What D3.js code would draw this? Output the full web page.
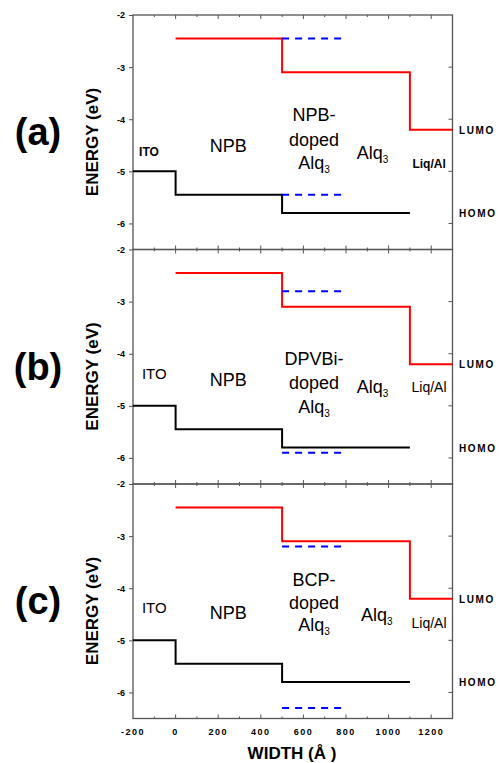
<!DOCTYPE html>
<html>
<head>
<meta charset="utf-8">
<script src="https://cdn.jsdelivr.net/npm/d3@7"></script>
<style>
  body { margin: 0; background: #fff; }
  text { font-family: "Liberation Sans", Arial, sans-serif; }
</style>
</head>
<body>
<div id="chart"></div>
<script>
// data
var panelNames = ["(a)", "(b)", "(c)"];
var dopants = ["NPB", "DPVBi", "BCP"];
var lumoX = [0, 500, 500, 1100, 1100, 1300];
var lumoY = [-2.45, -2.45, -3.1, -3.1, -4.2, -4.2];
var homoX = [-200, 0, 0, 500, 500, 1100];
var homoY = [-5, -5, -5.45, -5.45, -5.8, -5.8];
var dopantX = [500, 800];
var dopantLumo = [-2.45, -2.8, -3.2];
var dopantHomo = [-5.45, -5.9, -6.3];
var xTicks = [-200, 0, 200, 400, 600, 800, 1000, 1200];
var xMinor = [-100, 100, 300, 500, 700, 900, 1100];
var yTicks = [-2, -3, -4, -5, -6];

// label baselines (in eV) for each panel: [ITO, NPB, mid1, mid2, mid3, Alq3, Liq/Al]
var labelY = [
  [-4.71, -4.63, -4.03, -4.51, -4.96, -4.76, -4.94],
  [-4.49, -4.62, -4.22, -4.68, -5.14, -4.75, -4.74],
  [-4.48, -4.59, -3.96, -4.40, -4.82, -4.63, -4.76]
];

var width = 500, height = 763;
var left = 133, right = 452.5, top0 = 15, panelH = 234.5;

var svg = d3.select("#chart").append("svg")
    .attr("width", width)
    .attr("height", height);

var x = d3.scaleLinear().domain([-200, 1300]).range([left, right]);

var frameColor = "#555";

panelNames.forEach(function(name, i) {
  var top = top0 + i * panelH;
  var y = d3.scaleLinear().domain([-6.5, -2]).range([top + panelH, top]);
  var g = svg.append("g");
  var bold = i == 0; // panel (a) uses small bold ITO / Liq/Al
  var ly = labelY[i];

  // frame
  g.append("rect")
    .attr("x", left).attr("y", top)
    .attr("width", right - left).attr("height", panelH)
    .attr("fill", "none").attr("stroke", frameColor).attr("stroke-width", 1.3);

  // left axis
  var ax = g.append("g")
    .attr("transform", "translate(" + left + ",0)")
    .call(d3.axisLeft(y).tickValues(yTicks).tickSize(4).tickPadding(4)
      .tickFormat(function(d) { return String(d); }));
  ax.select(".domain").remove();
  ax.selectAll("line").attr("stroke", frameColor);
  ax.selectAll("text").attr("font-size", 9).attr("font-weight", "bold")
    .style("font-family", "Liberation Sans, Arial, sans-serif");

  // right ticks (inward)
  g.selectAll(".rt").data(yTicks.slice(1)).enter().append("line")
    .attr("x1", right - 4).attr("x2", right)
    .attr("y1", function(d) { return y(d); }).attr("y2", function(d) { return y(d); })
    .attr("stroke", frameColor);

  // top and bottom ticks (inward)
  [top, top + panelH].forEach(function(yy, k) {
    var dir = k == 0 ? 1 : -1;
    g.selectAll(null).data(xTicks.slice(1)).enter().append("line")
      .attr("x1", function(d) { return x(d); }).attr("x2", function(d) { return x(d); })
      .attr("y1", yy).attr("y2", yy + dir * 4)
      .attr("stroke", frameColor);
    g.selectAll(null).data(xMinor).enter().append("line")
      .attr("x1", function(d) { return x(d); }).attr("x2", function(d) { return x(d); })
      .attr("y1", yy).attr("y2", yy + dir * 2)
      .attr("stroke", frameColor);
  });

  var line = d3.line()
    .x(function(d) { return x(d[0]); })
    .y(function(d) { return y(d[1]); });

  g.append("path")
    .attr("d", line(d3.zip(lumoX, lumoY)))
    .attr("fill", "none").attr("stroke", "#ff0000").attr("stroke-width", 2);
  g.append("path")
    .attr("d", line(d3.zip(homoX, homoY)))
    .attr("fill", "none").attr("stroke", "#000").attr("stroke-width", 2);

  [dopantLumo[i], dopantHomo[i]].forEach(function(v) {
    g.append("path")
      .attr("d", line(dopantX.map(function(xx) { return [xx, v]; })))
      .attr("fill", "none").attr("stroke", "#0000ff").attr("stroke-width", 2)
      .attr("stroke-dasharray", "7,6");
  });

  // panel letter
  g.append("text")
    .attr("x", 38).attr("y", top + 130)
    .attr("text-anchor", "middle")
    .attr("font-size", 38).attr("font-weight", "bold")
    .text(name);

  // y axis title
  g.append("text")
    .attr("transform", "translate(98," + (top + 127) + ") rotate(-90)")
    .attr("text-anchor", "middle")
    .attr("font-size", 17).attr("font-weight", "bold")
    .text("ENERGY (eV)");

  // layer labels
  g.append("text")
    .attr("x", x(bold ? -125 : -100)).attr("y", y(ly[0]))
    .attr("text-anchor", "middle")
    .attr("font-size", bold ? 12 : 15).attr("font-weight", bold ? "bold" : "normal")
    .text("ITO");
  g.append("text")
    .attr("x", x(247)).attr("y", y(ly[1]))
    .attr("text-anchor", "middle").attr("font-size", 18)
    .text("NPB");
  g.append("text")
    .attr("x", x(650)).attr("y", y(ly[2]))
    .attr("text-anchor", "middle").attr("font-size", 18)
    .text(dopants[i] + "-");
  g.append("text")
    .attr("x", x(650)).attr("y", y(ly[3]))
    .attr("text-anchor", "middle").attr("font-size", 18)
    .text("doped");
  var t = g.append("text")
    .attr("x", x(650)).attr("y", y(ly[4]))
    .attr("text-anchor", "middle").attr("font-size", 18);
  t.append("tspan").text("Alq");
  t.append("tspan").attr("font-size", 10).attr("dy", 4).text("3");
  var t2 = g.append("text")
    .attr("x", x(i == 2 ? 945 : 925)).attr("y", y(ly[5]))
    .attr("text-anchor", "middle").attr("font-size", 18);
  t2.append("tspan").text("Alq");
  t2.append("tspan").attr("font-size", 10).attr("dy", 4).text("3");
  g.append("text")
    .attr("x", x(1190)).attr("y", y(ly[6]))
    .attr("text-anchor", "middle")
    .attr("font-size", bold ? 12 : 14).attr("font-weight", bold ? "bold" : "normal")
    .text("Liq/Al");

  // LUMO / HOMO side labels
  g.append("text")
    .attr("x", 459).attr("y", y(-4.2) + 4)
    .attr("font-size", 10).attr("font-weight", "bold").attr("letter-spacing", 1.6)
    .text("LUMO");
  g.append("text")
    .attr("x", 459).attr("y", y(-5.8) + 4)
    .attr("font-size", 10).attr("font-weight", "bold").attr("letter-spacing", 1.6)
    .text("HOMO");

  // x labels on the last panel only
  if (i == panelNames.length - 1) {
    g.selectAll(null).data(xTicks).enter().append("text")
      .attr("x", function(d) { return x(d); })
      .attr("y", top + panelH + 16)
      .attr("text-anchor", "middle")
      .attr("font-size", 9).attr("font-weight", "bold").attr("letter-spacing", 1.5)
      .text(function(d) { return String(d); });
    g.append("text")
      .attr("x", 292).attr("y", 759)
      .attr("text-anchor", "middle")
      .attr("font-size", 17).attr("font-weight", "bold")
      .text("WIDTH (Å )");
  }
});
</script>
</body>
</html>
